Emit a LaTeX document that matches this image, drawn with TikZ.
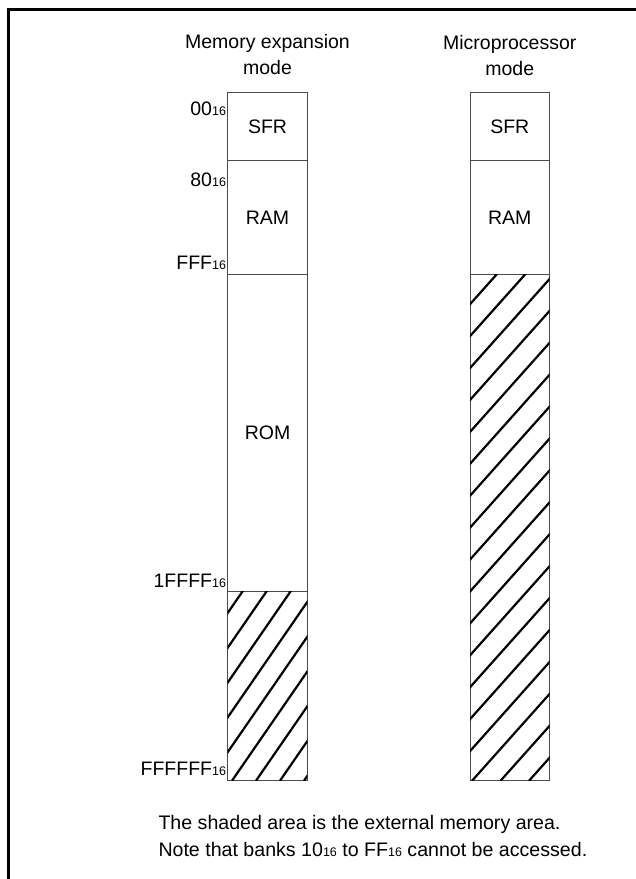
\documentclass[tikz,border=0pt]{standalone}
\usepackage{fontspec}
\setmainfont{Liberation Sans}
\usetikzlibrary{positioning,calc}
\newcommand{\hexsub}[1]{#1{\fontsize{12.5}{12.5}\selectfont 16}}
\tikzset{
  memblock/.style={draw=black!70, line width=1pt, minimum width=79.6pt,
    inner sep=0pt, outer sep=0pt, font=\fontsize{19.5}{26}\selectfont},
  addrlabel/.style={anchor=base east, inner sep=0pt, font=\fontsize{19.5}{26}\selectfont},
  headtext/.style={align=center, anchor=base, inner sep=0pt, font=\fontsize{19.5}{26}\selectfont},
  hatchline/.style={line width=2.2pt},
  framebar/.style={line width=3pt}
}

\begin{document}
\begin{tikzpicture}[x=1pt, y=-1pt]
  \useasboundingbox (0,0) rectangle (636,879);
  \draw[framebar] (8.7,890) -- (8.7,9.3) -- (645,9.3);

  \node[memblock, minimum height=68pt, anchor=north] (sfrL) at (267.5,92.7) {SFR};
  \node[memblock, minimum height=113.6pt, below=0pt of sfrL] (ramL) {RAM};
  \node[memblock, minimum height=317.4pt, below=0pt of ramL] (romL) {ROM};
  \node[memblock, minimum height=189pt, below=0pt of romL] (extL) {};
  \node[memblock, minimum height=68pt, right=162.7pt of sfrL] (sfrR) {SFR};
  \node[memblock, minimum height=113.4pt, below=0pt of sfrR] (ramR) {RAM};
  \node[memblock, minimum height=506.7pt, below=0pt of ramR] (extR) {};

  \node[headtext] (headL) at ($(sfrL.north)+(0,-18.2)$) {Memory expansion\\mode};
  \node[headtext] (headR) at ($(sfrR.north)+(0,-17.2)$) {Microprocessor\\mode};

  \node[addrlabel] (a00) at ($(sfrL.north west)+(-1.5,22.3)$) {\hexsub{00}};
  \node[addrlabel] (a80) at ($(ramL.north west)+(-1.5,25.3)$) {\hexsub{80}};
  \node[addrlabel] (aFFF) at ($(ramL.south west)+(-1.5,-5)$) {\hexsub{FFF}};
  \node[addrlabel] (a1FFFF) at ($(romL.south west)+(-1.5,-4.4)$) {\hexsub{1FFFF}};
  \node[addrlabel] (aFFFFFF) at ($(extL.south west)+(-1.5,-5.7)$) {\hexsub{FFFFFF}};

  % external areas
  \begin{scope}
    \clip (extL.south west) rectangle (extL.north east);
    \foreach \k in {-6,...,3}
      \draw[hatchline] ($(extL.south west)+(4.3+24*\k,0)$) -- ++(140,-203);
  \end{scope}
  \begin{scope}
    \clip (extR.south west) rectangle (extR.north east);
    \foreach \k in {-16,...,3}
      \draw[hatchline] ($(extR.south west)+(2+28.5*\k,0)$) -- ++(470,-526.4);
  \end{scope}

  \node[anchor=base west, align=left, inner sep=0pt, font=\fontsize{19.6}{27}\selectfont] (note)
    at (158.3,856) {The shaded area is the external memory area.\\Note that banks \hexsub{10} to \hexsub{FF} cannot be accessed.};
\end{tikzpicture}
\end{document}
